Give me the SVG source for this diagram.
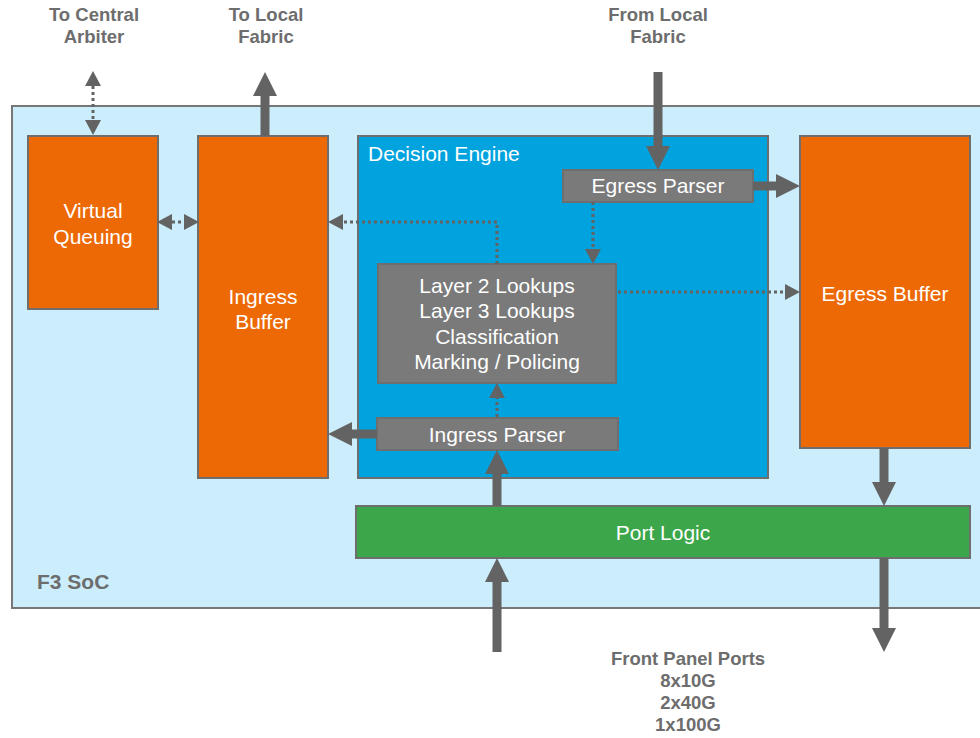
<svg xmlns="http://www.w3.org/2000/svg" width="980" height="738" viewBox="0 0 980 738">
  <defs>
    <style>
      .lbl { font-family: "Liberation Sans", Arial, sans-serif; font-weight: bold; fill: #6d6d6d; font-size: 18.5px; text-anchor: middle; }
      .wt { font-family: "Liberation Sans", Arial, sans-serif; fill: #ffffff; font-size: 21px; text-anchor: middle; }
      .box { stroke: #6e6e6e; stroke-width: 2; }
      .orange { fill: #ec6905; }
      .grey { fill: #7a7a7a; }
      .thick { stroke: #636363; stroke-width: 9; fill: none; }
      .dot { stroke: #636363; stroke-width: 3; stroke-dasharray: 3 3; fill: none; }
    </style>
    <marker id="bigHead" markerUnits="userSpaceOnUse" markerWidth="24" markerHeight="24" refX="0" refY="12" orient="auto">
      <path d="M0,0 L24,12 L0,24 z" fill="#636363"/>
    </marker>
    <marker id="smallHead" markerUnits="userSpaceOnUse" markerWidth="15" markerHeight="16" refX="0" refY="8" orient="auto">
      <path d="M0,0 L15,8 L0,16 z" fill="#636363"/>
    </marker>
    <marker id="smallHeadStart" markerUnits="userSpaceOnUse" markerWidth="15" markerHeight="16" refX="15" refY="8" orient="auto">
      <path d="M15,0 L0,8 L15,16 z" fill="#636363"/>
    </marker>
  </defs>

  <!-- external labels -->
  <g id="label-arbiter">
    <text class="lbl" x="94" y="21">To Central</text>
    <text class="lbl" x="94" y="43">Arbiter</text>
  </g>
  <g id="label-to-fabric">
    <text class="lbl" x="266" y="21">To Local</text>
    <text class="lbl" x="266" y="43">Fabric</text>
  </g>
  <g id="label-from-fabric">
    <text class="lbl" x="658" y="21">From Local</text>
    <text class="lbl" x="658" y="43">Fabric</text>
  </g>
  <g id="label-ports">
    <text class="lbl" x="688" y="665">Front Panel Ports</text>
    <text class="lbl" x="688" y="687">8x10G</text>
    <text class="lbl" x="688" y="709">2x40G</text>
    <text class="lbl" x="688" y="731">1x100G</text>
  </g>

  <!-- chip outline -->
  <g id="soc">
    <rect x="12" y="106" width="975" height="502" fill="#cceefc" stroke="#777777" stroke-width="2"/>
    <text x="37" y="589" style="font-family:'Liberation Sans',Arial,sans-serif;font-weight:bold;font-size:21px;fill:#6d6d6d">F3 SoC</text>
  </g>

  <g id="virtual-queuing">
    <rect class="box orange" x="28" y="136" width="130" height="173"/>
    <text class="wt" x="93" y="218">Virtual</text>
    <text class="wt" x="93" y="244">Queuing</text>
  </g>

  <g id="ingress-buffer">
    <rect class="box orange" x="198" y="136" width="130" height="342"/>
    <text class="wt" x="263" y="304">Ingress</text>
    <text class="wt" x="263" y="329">Buffer</text>
  </g>

  <g id="decision-engine">
    <rect class="box" x="358" y="136" width="410" height="342" fill="#00a3de"/>
    <text x="368" y="161" style="font-family:'Liberation Sans',Arial,sans-serif;font-size:21px;fill:#ffffff">Decision Engine</text>
  </g>

  <g id="egress-buffer">
    <rect class="box orange" x="800" y="136" width="170" height="312"/>
    <text class="wt" x="885" y="301">Egress Buffer</text>
  </g>

  <g id="egress-parser">
    <rect class="box grey" x="563" y="170" width="190" height="32"/>
    <text class="wt" x="658" y="193">Egress Parser</text>
  </g>

  <g id="lookups">
    <rect class="box grey" x="378" y="264" width="238" height="119"/>
    <text class="wt" x="497" y="293">Layer 2 Lookups</text>
    <text class="wt" x="497" y="318">Layer 3 Lookups</text>
    <text class="wt" x="497" y="344">Classification</text>
    <text class="wt" x="497" y="369">Marking / Policing</text>
  </g>

  <g id="ingress-parser">
    <rect class="box grey" x="377" y="418" width="241" height="32"/>
    <text class="wt" x="497" y="442">Ingress Parser</text>
  </g>

  <g id="port-logic">
    <rect class="box" x="356" y="506" width="614" height="52" fill="#3ca64a"/>
    <text class="wt" x="663" y="540">Port Logic</text>
  </g>

  <g id="connectors">
    <!-- arbiter link (both ways) -->
    <line class="dot" x1="93" y1="86" x2="93" y2="120" marker-start="url(#smallHeadStart)" marker-end="url(#smallHead)"/>
    <!-- to local fabric -->
    <line class="thick" x1="265" y1="136" x2="265" y2="96" marker-end="url(#bigHead)"/>
    <!-- from local fabric -->
    <line class="thick" x1="658" y1="72" x2="658" y2="146" marker-end="url(#bigHead)"/>
    <!-- egress parser to egress buffer -->
    <line class="thick" x1="753" y1="186" x2="776" y2="186" marker-end="url(#bigHead)"/>
    <!-- virtual queuing <-> ingress buffer -->
    <line class="dot" x1="172" y1="222" x2="184" y2="222" marker-start="url(#smallHeadStart)" marker-end="url(#smallHead)"/>
    <!-- lookups result back to ingress buffer -->
    <polyline class="dot" points="497,264 497,222 343,222" marker-end="url(#smallHead)"/>
    <!-- egress parser to lookups -->
    <line class="dot" x1="593" y1="202" x2="593" y2="249" marker-end="url(#smallHead)"/>
    <!-- lookups to egress buffer -->
    <line class="dot" x1="618" y1="292" x2="785" y2="292" marker-end="url(#smallHead)"/>
    <!-- ingress parser to lookups -->
    <line class="dot" x1="497" y1="417" x2="497" y2="398" marker-end="url(#smallHead)"/>
    <!-- ingress parser to ingress buffer -->
    <line class="thick" x1="377" y1="434" x2="352" y2="434" marker-end="url(#bigHead)"/>
    <!-- port logic to ingress parser -->
    <line class="thick" x1="497" y1="506" x2="497" y2="474" marker-end="url(#bigHead)"/>
    <!-- egress buffer to port logic -->
    <line class="thick" x1="884" y1="448" x2="884" y2="482" marker-end="url(#bigHead)"/>
    <!-- front panel in -->
    <line class="thick" x1="497" y1="652" x2="497" y2="582" marker-end="url(#bigHead)"/>
    <!-- front panel out -->
    <line class="thick" x1="884" y1="558" x2="884" y2="628" marker-end="url(#bigHead)"/>
  </g>
</svg>
